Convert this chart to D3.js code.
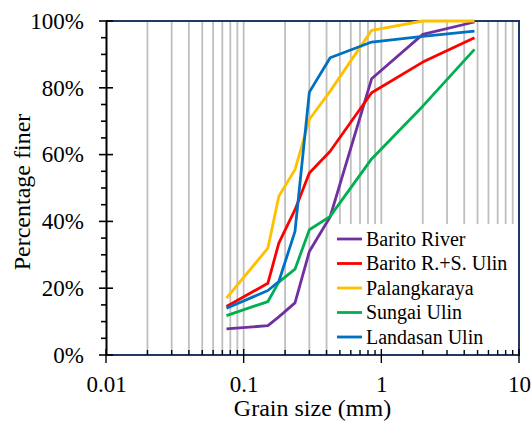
<!DOCTYPE html>
<html lang="en">
<head>
    <meta charset="UTF-8">
    <title>Grain size distribution</title>
    <script src="https://d3js.org/d3.v7.min.js"></script>
    <style>
        body { margin: 0; background: #fff; }
        svg { font-family: "Liberation Serif", "Times New Roman", serif; }
        .grid line { stroke: #bfbfbf; stroke-width: 1.8px; }
        .line { fill: none; stroke-width: 2.8px; stroke-linejoin: round; }
        .title { font-size: 24px; fill: #000; }
        .legend text { font-size: 20px; fill: #000; }
    </style>
</head>
<body>
    <div id="chart"></div>
    <script>
        // grain sizes (mm)
        const sizes = [0.075, 0.15, 0.18, 0.236, 0.3, 0.425, 0.85, 2.0, 4.75];

        // percentage finer
        const baritoRiver   = [7.8, 8.8, 11.4, 15.6, 31, 41.4, 82.7, 96, 99.7];
        const baritoSUlin   = [14.5, 21.5, 33.5, 43.5, 54.5, 61, 78.5, 87.7, 95];
        const palangkaraya  = [17, 32, 47.5, 55.5, 70.5, 79, 97.2, 100, 100];
        const sungaiUlin    = [11.8, 16, 21.8, 25.7, 37.5, 41.5, 58.7, 74.5, 91.5];
        const landasanUlin  = [14, 19.3, 22, 37, 78.7, 89, 93.7, 95.4, 97];

        const seriesNames = ["Barito River", "Barito R.+S. Ulin", "Palangkaraya", "Sungai Ulin", "Landasan Ulin"];
        const seriesColors = ["#7030a0", "#ff0000", "#ffc000", "#00b050", "#0070c0"];
        const seriesValues = [baritoRiver, baritoSUlin, palangkaraya, sungaiUlin, landasanUlin];

        const xMajor = [0.01, 0.1, 1, 10];
        const yMajor = [0, 20, 40, 60, 80, 100];

        const W = 532, H = 421;
        const pLeft = 106, pRight = 519, pTop = 21, pBottom = 355;
        const serif = '"Liberation Serif", "Times New Roman", serif';

        const svg = d3.select("#chart").append("svg")
            .attr("width", W)
            .attr("height", H);

        const x = d3.scaleLog().domain([0.01, 10]).range([pLeft, pRight]);
        const y = d3.scaleLinear().domain([0, 100]).range([pBottom, pTop]);

        // minor values 2..9 per decade
        const xMinor = [];
        [0.01, 0.1, 1].forEach(d => {
            for (let k = 2; k <= 9; k++) xMinor.push(+(d * k).toFixed(4));
        });
        const xGrid = xMinor.concat([0.1, 1]);

        // vertical gridlines
        svg.append("g").attr("class", "grid")
            .selectAll("line").data(xGrid).join("line")
            .attr("x1", d => x(d)).attr("x2", d => x(d))
            .attr("y1", pTop).attr("y2", pBottom);

        // plot frame (top, right, bottom)
        svg.append("path")
            .attr("d", `M${pLeft},${pTop}H${pRight}V${pBottom}H${pLeft}`)
            .attr("fill", "none")
            .attr("stroke", "#1f3864")
            .attr("stroke-width", 2);

        // data lines
        const line = d3.line()
            .x(d => x(d[0]))
            .y(d => y(d[1]));

        svg.append("g").selectAll("path")
            .data(seriesValues)
            .join("path")
            .attr("class", "line")
            .attr("stroke", (d, i) => seriesColors[i])
            .attr("d", vals => line(sizes.map((s, j) => [s, vals[j]])));

        // legend
        const legend = svg.append("g").attr("class", "legend");
        legend.append("rect")
            .attr("x", 334).attr("y", 224)
            .attr("width", pRight - 1 - 334).attr("height", pBottom - 1 - 224)
            .attr("fill", "#fff");
        const rows = legend.selectAll("g.row").data(seriesNames).join("g")
            .attr("class", "row")
            .attr("transform", (d, i) => `translate(0,${239 + i * 24.5})`);
        rows.append("line")
            .attr("x1", 337).attr("x2", 362)
            .attr("stroke", (d, i) => seriesColors[i])
            .attr("stroke-width", 2.8);
        rows.append("text")
            .attr("x", 366).attr("dy", "0.33em")
            .text(d => d);

        // y axis
        const yAxis = svg.append("g")
            .attr("transform", `translate(${pLeft},0)`)
            .call(d3.axisLeft(y).tickValues(yMajor).tickSize(0).tickPadding(22).tickFormat(d => d + "%"));
        yAxis.select(".domain").attr("stroke", "#000").attr("stroke-width", 2);
        yAxis.selectAll(".tick text")
            .style("font-family", serif).style("font-size", "23px").attr("fill", "#000");

        svg.append("g").selectAll("line").data(d3.range(0, 101, 5)).join("line")
            .attr("x1", d => yMajor.includes(d) ? pLeft - 7 : pLeft - 5)
            .attr("x2", d => yMajor.includes(d) ? pLeft + 7 : pLeft)
            .attr("y1", d => y(d)).attr("y2", d => y(d))
            .attr("stroke", "#000").attr("stroke-width", 1.6);

        // x axis
        const xAxis = svg.append("g")
            .attr("transform", `translate(0,${pBottom})`)
            .call(d3.axisBottom(x).tickValues(xMajor).tickSize(0).tickPadding(21).tickFormat(d => String(d)));
        xAxis.select(".domain").remove();
        xAxis.selectAll(".tick text")
            .style("font-family", serif).style("font-size", "23px").attr("fill", "#000");

        svg.append("g").selectAll("line").data(xMinor.concat(xMajor)).join("line")
            .attr("x1", d => x(d)).attr("x2", d => x(d))
            .attr("y1", d => xMajor.includes(d) ? pBottom - 6 : pBottom - 5)
            .attr("y2", d => xMajor.includes(d) ? pBottom + 8 : pBottom)
            .attr("stroke", "#000").attr("stroke-width", 1.4);

        // axis titles
        svg.append("text")
            .attr("class", "title")
            .attr("x", (pLeft + pRight) / 2).attr("y", 416)
            .attr("text-anchor", "middle")
            .text("Grain size (mm)");

        svg.append("text")
            .attr("class", "title")
            .attr("transform", `translate(30,${(pTop + pBottom) / 2 + 4}) rotate(-90)`)
            .attr("text-anchor", "middle")
            .text("Percentage finer");
    </script>
</body>
</html>
